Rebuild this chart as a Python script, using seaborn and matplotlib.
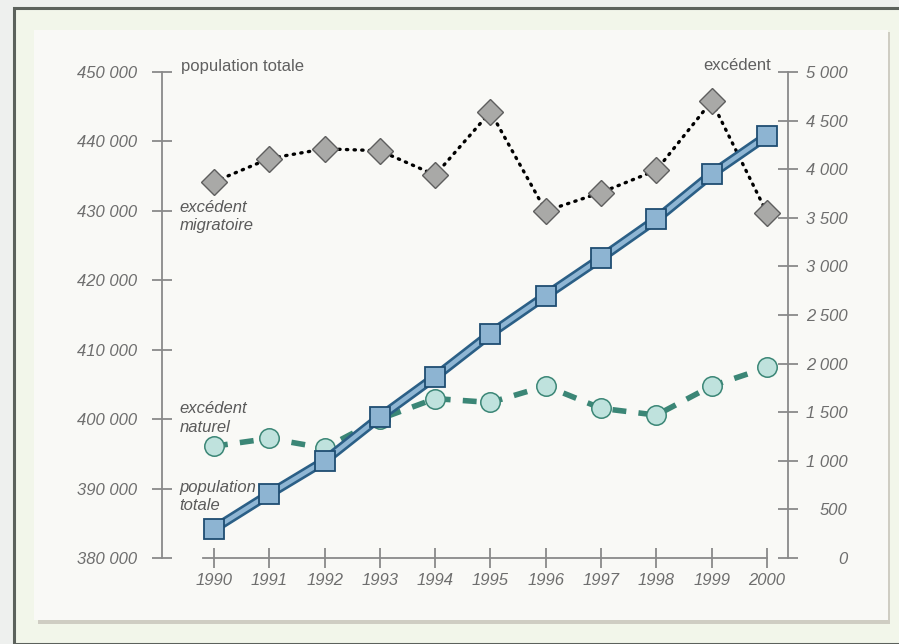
import numpy as np
import pandas as pd
import seaborn as sns
import matplotlib.pyplot as plt
from matplotlib.patches import Rectangle
from matplotlib.ticker import FuncFormatter

years = [1990, 1991, 1992, 1993, 1994, 1995, 1996, 1997, 1998, 1999, 2000]
population_totale = [384200, 389200, 394000, 400300, 406100, 412300,
                     417800, 423200, 428800, 435300, 440800]
excedent_migratoire = [3870, 4110, 4210, 4190, 3940, 4590,
                       3570, 3760, 3990, 4700, 3550]
excedent_naturel = [1150, 1230, 1130, 1430, 1640, 1600,
                    1770, 1540, 1470, 1770, 1960]

left_ticks = [380000, 390000, 400000, 410000, 420000, 430000, 440000, 450000]
right_ticks = [0, 500, 1000, 1500, 2000, 2500, 3000, 3500, 4000, 4500, 5000]

df = pd.DataFrame({
    "annee": years,
    "population": population_totale,
    "migratoire": excedent_migratoire,
    "naturel": excedent_naturel,
})

sns.set_style("white")
plt.rcParams["font.family"] = ["Liberation Sans", "DejaVu Sans"]

W, H = 899, 644
fig = plt.figure(figsize=(W / 100, H / 100), dpi=100)
fig.patch.set_facecolor("#eef0ee")


def px(x0, y0, w, h):
    # pixel box (top-left origin) -> figure fraction
    return [x0 / W, 1 - (y0 + h) / H, w / W, h / H]


# frame and paper background
fig.patches.append(Rectangle((14 / W, 0), 1, 1 - 8 / H, transform=fig.transFigure,
                             facecolor="#f2f6ea", edgecolor="#5c625c", lw=2.2, zorder=0))
fig.patches.append(Rectangle((38 / W, 20 / H), 852 / W, 592 / H, transform=fig.transFigure,
                             facecolor="#cfcdc3", edgecolor="none", zorder=0.5))
fig.patches.append(Rectangle((34 / W, 24 / H), 854 / W, 590 / H, transform=fig.transFigure,
                             facecolor="#f9f9f6", edgecolor="none", zorder=0.6))

ax = fig.add_axes(px(162, 72, 626, 486))
ax2 = ax.twinx()
ax2.set_zorder(2)
ax.set_zorder(3)
ax.patch.set_visible(False)
ax2.patch.set_visible(False)

grey = "#8a8a8a"
label_col = "#6e6e6e"

# excédent migratoire (right axis)
sns.lineplot(data=df, x="annee", y="migratoire", ax=ax2, color="black",
             lw=2.4, linestyle=(0, (0.4, 1.9)), dash_capstyle="round",
             marker="D", markersize=13.5, markerfacecolor="#a9a9a7",
             markeredgecolor="#5e5e5e", markeredgewidth=1.0)
# excédent naturel (right axis)
sns.lineplot(data=df, x="annee", y="naturel", ax=ax2, color="#3b8676",
             lw=4, linestyle=(0, (2.5, 2.2)),
             marker="o", markersize=14, markerfacecolor="#bfe2dd",
             markeredgecolor="#3b8676", markeredgewidth=1.1)
# population totale (left axis)
sns.lineplot(data=df, x="annee", y="population", ax=ax, color="#2b5f86",
             lw=7, solid_capstyle="butt")
sns.lineplot(data=df, x="annee", y="population", ax=ax, color="#8fb6d4",
             lw=3.2, marker="s", markersize=15, markerfacecolor="#8db4d2",
             markeredgecolor="#1f4d72", markeredgewidth=1.3)

ax.set_xlim(1989.06, 2000.38)
ax.set_ylim(380000, 450000)
ax2.set_ylim(0, 5000)

fmt = FuncFormatter(lambda v, p: f"{int(v):,}".replace(",", " "))
ax.set_yticks(left_ticks)
ax.yaxis.set_major_formatter(fmt)
ax2.set_yticks(right_ticks)
ax2.yaxis.set_major_formatter(fmt)
ax.set_xticks(years)

for a in (ax, ax2):
    a.set_xlabel("")
    a.set_ylabel("")
    for s in a.spines.values():
        s.set_visible(False)

ax.spines["left"].set_visible(True)
ax.spines["left"].set_color(grey)
ax.spines["left"].set_linewidth(1.3)
ax.spines["bottom"].set_visible(True)
ax.spines["bottom"].set_color(grey)
ax.spines["bottom"].set_linewidth(1.3)
ax.spines["bottom"].set_bounds(1989.8, 2000)
ax2.spines["right"].set_visible(True)
ax2.spines["right"].set_color(grey)
ax2.spines["right"].set_linewidth(1.3)

ax.tick_params(axis="y", direction="inout", length=14, width=1.3, color=grey,
               labelsize=12, labelcolor=label_col, pad=11, left=True)
ax.tick_params(axis="x", direction="inout", length=14, width=1.3, color=grey,
               labelsize=12, labelcolor=label_col, pad=4, bottom=True)
ax2.tick_params(axis="y", direction="inout", length=14, width=1.3, color=grey,
                labelsize=12, labelcolor=label_col, pad=36, right=True)
for lab in ax.get_yticklabels() + ax.get_xticklabels() + ax2.get_yticklabels():
    lab.set_fontstyle("italic")
for lab in ax2.get_yticklabels():
    lab.set_horizontalalignment("right")

# axis titles
fig.text(181 / W, 1 - 66 / H, "population totale", fontsize=12, color="#606060",
         va="center", ha="left")
fig.text(771 / W, 1 - 66 / H, "excédent", fontsize=12, color="#606060",
         va="center", ha="right")

# series labels
note = dict(fontsize=12, color="#5a5a5a", style="italic", ha="left", va="center",
            linespacing=1.3)
ax.text(1989.38, 429200, "excédent\nmigratoire", **note)
ax.text(1989.38, 400200, "excédent\nnaturel", **note)
ax.text(1989.38, 388850, "population\ntotale", **note)

plt.savefig("out.png", dpi=100, facecolor=fig.get_facecolor())
